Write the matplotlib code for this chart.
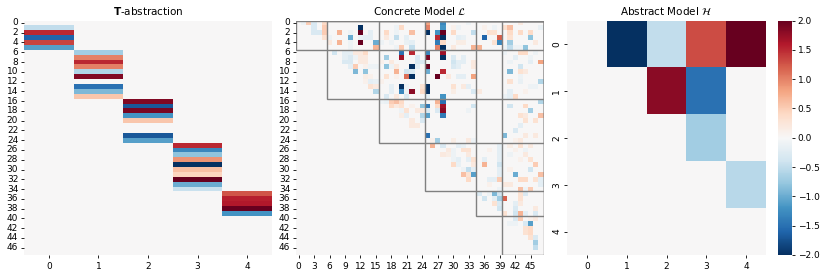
import numpy as np
import matplotlib
matplotlib.use('Agg')
import matplotlib.pyplot as plt
import seaborn as sns
from matplotlib.patches import Rectangle

W, H = 830, 277
n_low = 48
n_high = 5

# block boundaries of the low level variables
block_starts = [0, 6, 16, 25, 35, 40]
block_ends = [6, 16, 25, 35, 40, 48]

# T-abstraction: column -> {row: value}
t_columns = {
    0: {1: -0.5, 2: 1.5, 3: -1.6, 4: 1.35, 5: -1.1},
    1: {6: -0.7, 7: 1.0, 8: 1.5, 9: 1.0, 10: -0.6, 11: 1.85, 13: -1.5, 14: -0.9, 15: 0.55},
    2: {16: 1.85, 17: -1.7, 18: 1.9, 19: -1.2, 20: 0.55, 23: -1.7, 24: -1.1},
    3: {25: 1.5, 26: -1.3, 27: -0.8, 28: 0.9, 29: -2.0, 30: 0.6, 31: 0.45, 32: 2.0, 33: -1.0, 34: -0.45},
    4: {35: 1.25, 36: 1.55, 37: 1.6, 38: 2.0, 39: -1.2},
}

# concrete model: row -> {column: value}, only non zero cells
concrete_rows = {
    0: {1: -0.1, 2: 0.5, 3: -0.3, 5: 0.4, 25: 0.8, 28: -1.3, 33: -0.1, 43: 0.2},
    1: {3: -0.3, 5: 0.5, 12: -2.0, 19: -0.1, 20: 0.4, 25: 1.0, 28: -1.2, 30: 0.1, 31: -0.1, 36: 0.1, 38: -0.1, 40: 0.3, 41: 0.6, 47: -0.15},
    2: {3: -0.3, 4: -0.3, 5: 0.5, 8: 0.7, 10: -0.1, 12: 2.0, 14: -0.2, 17: 0.4, 19: -0.1, 22: 0.6, 25: -2.0, 27: -1.2, 28: 2.0, 30: 0.4, 34: -0.5, 37: 0.3, 38: 0.3, 41: 0.4, 43: 0.4, 45: 0.4},
    3: {5: 0.3, 6: -0.1, 10: -1.0, 12: -0.15, 13: -0.2, 14: -0.2, 17: 0.2, 19: -0.5, 21: -0.2, 27: 1.5, 28: -2.0, 31: -0.2, 32: -0.15, 36: -1.6, 39: 1.2, 41: 0.3, 45: -0.8},
    4: {6: 0.2, 8: 0.7, 10: -0.1, 12: 2.0, 15: -1.0, 16: -0.1, 18: -0.1, 21: -0.15, 22: -0.2, 27: -1.4, 28: 0.4, 31: 0.15, 32: 0.15, 38: 0.3, 39: -1.3, 41: -0.7, 46: 0.2},
    5: {10: -0.1, 15: 0.7, 19: -0.1, 20: 0.5, 22: -0.5, 27: 1.0, 28: -2.0, 30: 0.2, 34: 0.7, 35: 0.7, 40: -0.1, 41: -0.5, 42: -0.1, 43: -0.1, 44: -0.8},
    6: {7: -0.4, 9: -0.2, 10: -0.2, 11: 0.2, 12: 0.2, 13: 0.4, 20: -1.5, 22: 1.5, 25: -1.3, 28: 1.7, 40: -0.1, 43: 0.4, 44: 0.4, 46: -0.1},
    7: {9: -0.2, 10: -0.3, 11: -0.1, 12: 0.2, 13: 0.2, 17: -0.7, 20: 1.7, 23: -0.3, 25: 1.9, 28: -2.0, 30: -0.3, 32: -0.2, 42: -0.2, 45: -0.1},
    8: {9: -0.3, 10: -0.3, 12: 0.2, 13: 0.2, 16: 0.1, 18: 0.2, 23: -0.3, 24: -0.3, 30: -0.4, 31: -0.2, 32: -0.2, 34: 0.2, 41: -0.1, 45: -0.2, 47: 0.8},
    9: {10: -0.2, 11: 0.5, 13: 0.1, 14: -0.1, 15: -0.1, 17: -0.8, 18: -0.1, 19: 0.2, 22: -2.0, 23: -0.2, 25: 2.0, 30: -0.3, 31: -0.2, 34: 0.2, 43: -0.4},
    10: {11: -0.9, 13: -0.8, 19: 0.7, 21: -0.4, 22: -0.3, 25: -1.0, 28: 1.5, 41: -0.9, 43: 0.3, 44: 0.2},
    11: {13: 0.15, 14: 0.1, 17: 0.3, 19: 0.1, 21: 1.1, 22: -2.0, 27: 2.0, 29: 0.2, 31: -0.2, 32: -0.2, 34: 0.8, 43: -0.1},
    12: {13: 0.1, 14: -0.2, 15: -0.15, 16: 0.1, 41: 0.3, 43: -0.15, 47: -0.6},
    13: {14: 0.3, 15: 0.2, 18: -0.2, 20: -2.0, 21: -0.1, 24: 0.3, 25: -2.0, 30: 0.3, 32: 0.2, 33: -0.2, 45: -0.1, 46: -0.1},
    14: {15: -0.6, 18: -0.2, 20: -1.3, 21: -0.1, 22: 1.8, 24: 0.4, 25: -2.0, 30: 0.15, 34: -0.3, 35: 0.2, 41: -0.2, 44: 0.1},
    15: {17: -0.3, 19: 0.2, 21: -0.3, 25: -0.2, 28: -1.2, 40: -0.1, 41: -0.2, 42: 0.4},
    16: {16: -0.1, 17: -0.15, 18: 0.5, 19: 0.6, 20: 0.4, 27: 0.7, 28: -1.5, 47: -0.6},
    17: {18: 0.4, 19: 0.2, 20: 0.3, 22: 0.1, 24: -0.8, 25: -1.4, 27: 0.4, 28: 1.7, 34: -0.4, 41: -0.4, 44: 0.4},
    18: {20: -0.1, 21: 0.3, 23: 0.2, 24: 0.2, 25: -0.3, 27: -0.3, 28: 1.8, 33: -0.1, 45: -0.7},
    19: {20: 0.15, 21: -0.2, 24: -0.6, 25: -1.1, 28: -1.4, 43: 0.3, 44: 0.2, 47: 0.6},
    20: {22: 0.2, 24: -0.3, 44: 0.3, 46: 0.3},
    21: {22: 0.2, 23: 0.2, 43: -0.2},
    22: {42: -0.3},
    23: {25: -1.5, 40: -0.9, 44: 0.2, 46: 0.2},
    24: {26: 0.1, 27: -0.7, 30: 0.15, 33: 0.2, 34: -0.1, 42: 0.1, 43: 0.2},
    25: {26: 0.7, 28: -0.3, 31: -0.2, 32: -0.15, 39: -0.2, 41: 0.15, 43: 0.3, 45: 0.2},
    26: {29: 0.2, 30: -0.1, 32: 0.3, 33: 0.3, 37: 0.1, 39: -0.2, 42: 0.1, 44: -0.1},
    27: {28: 0.2, 29: 0.15, 30: -0.1, 33: 0.2, 39: -0.2, 41: -0.1, 44: 0.2},
    28: {30: -0.1, 31: -0.2, 33: -0.2, 34: 0.3, 36: -0.2, 39: -0.2, 43: 0.1, 45: 0.3},
    29: {30: 0.4, 31: -0.15, 34: 0.2, 36: 0.7, 39: -0.4, 46: 0.5},
    30: {32: -0.1, 33: -0.5, 34: -0.2, 39: -0.2, 41: 0.1, 45: -0.4},
    31: {32: 0.6, 33: 0.3, 34: -1.1, 39: -0.2, 42: -1.0, 47: 0.6},
    32: {33: 0.4, 37: -0.2, 38: -0.2, 39: 0.5, 43: 0.4, 44: 0.4, 46: 0.3, 47: -0.2},
    33: {37: 0.1, 40: 0.2, 41: 0.2, 47: -0.2},
    34: {39: -0.1, 43: 0.6, 44: -0.1, 45: 0.5},
    35: {35: -0.3, 37: -0.1, 38: -0.9, 39: -0.4, 43: 0.3, 44: -0.3},
    36: {36: -0.4, 38: -0.2, 39: -0.7, 40: 1.2, 43: 0.3},
    37: {38: 0.3, 39: -0.3, 42: -0.2, 43: 0.2},
    38: {39: -0.4, 42: -0.3, 46: 0.2},
    39: {40: 0.3, 42: -0.4, 43: 0.7, 44: -0.2, 46: -0.3},
    40: {42: -0.3, 43: 0.5, 45: 0.1, 46: 0.2},
    41: {41: -0.1, 42: -0.1, 44: -0.3, 45: -1.1},
    42: {44: 0.3, 45: 0.4},
    43: {44: 0.3, 45: 0.4},
    44: {45: 0.3, 46: -0.3},
    45: {46: -0.7},
    46: {46: -0.5},
}

# abstract model
abstract_values = [
    [0, -2.0, -0.5, 1.3, 2.0],
    [0, 0, 1.8, -1.5, 0],
    [0, 0, 0, -0.7, 0],
    [0, 0, 0, 0, -0.55],
    [0, 0, 0, 0, 0],
]

t_matrix = np.zeros((n_low, n_high))
for col, cells in t_columns.items():
    for row, val in cells.items():
        t_matrix[row, col] = val

concrete = np.zeros((n_low, n_low))
for row, cells in concrete_rows.items():
    for col, val in cells.items():
        concrete[row, col] = val

plt.rcParams['font.size'] = 6.5
plt.rcParams['xtick.major.size'] = 2.2
plt.rcParams['ytick.major.size'] = 2.2
plt.rcParams['xtick.major.width'] = 0.6
plt.rcParams['ytick.major.width'] = 0.6
plt.rcParams['xtick.major.pad'] = 2.5
plt.rcParams['ytick.major.pad'] = 2
plt.rcParams['mathtext.fontset'] = 'dejavusans'


def px_axes(fig, x0, y0, x1, y1):
    return fig.add_axes([x0 / W, 1 - y1 / H, (x1 - x0) / W, (y1 - y0) / H])


fig = plt.figure(figsize=(W / 100, H / 100), dpi=100)
ax_t = px_axes(fig, 24, 20.5, 272, 255)
ax_c = px_axes(fig, 296, 20.5, 543.5, 255)
ax_a = px_axes(fig, 567, 20.5, 766, 255)
ax_cb = px_axes(fig, 778, 20.5, 792, 255)

common = dict(cmap='RdBu_r', vmin=-2, vmax=2, center=0)

sns.heatmap(t_matrix, ax=ax_t, cbar=False, **common)
ax_t.set_xticks(np.arange(n_high) + 0.5, [str(i) for i in range(n_high)], rotation=0)
ax_t.set_yticks(np.arange(0, n_low, 2) + 0.5, [str(i) for i in range(0, n_low, 2)], rotation=0)
ax_t.set_title(r'$\mathbf{T}$-abstraction', fontsize=7.5, pad=4)

sns.heatmap(concrete, ax=ax_c, cbar=False, **common)
ax_c.set_xticks(np.arange(0, n_low, 3) + 0.5, [str(i) for i in range(0, n_low, 3)], rotation=0)
ax_c.set_yticks(np.arange(0, n_low, 2) + 0.5, [str(i) for i in range(0, n_low, 2)], rotation=0)
ax_c.set_title(r'Concrete Model $\mathcal{L}$', fontsize=7.5, pad=4)
for start, end in zip(block_starts, block_ends):
    ax_c.add_patch(Rectangle((start, 0), n_low - start, end, fill=False,
                             edgecolor='#808080', linewidth=1.0))

sns.heatmap(np.array(abstract_values), ax=ax_a, cbar_ax=ax_cb, **common)
ax_a.set_xticks(np.arange(n_high) + 0.5, [str(i) for i in range(n_high)], rotation=0)
ax_a.set_yticks(np.arange(n_high) + 0.5, [str(i) for i in range(n_high)], rotation=90, va='center')
ax_a.set_title(r'Abstract Model $\mathcal{H}$', fontsize=7.5, pad=4)

ax_cb.set_yticks(np.arange(-2, 2.5, 0.5))
ax_cb.tick_params(length=2.2, width=0.6, pad=2, labelsize=6.5)

fig.savefig('out.png', dpi=100)
